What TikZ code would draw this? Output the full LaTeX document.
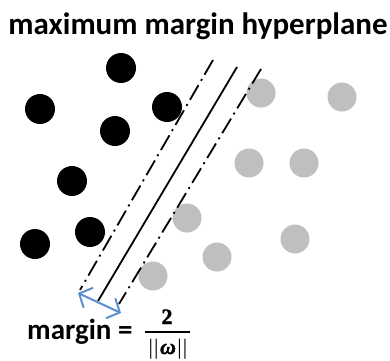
\documentclass[tikz,border=0pt]{standalone}
\usepackage{fontspec}
\setmainfont{Carlito}
\newfontfamily\fracfont{Liberation Serif}[BoldFont={Liberation Serif Bold},BoldItalicFont={Liberation Serif Bold Italic},BoldFeatures={FakeBold=1.5},BoldItalicFeatures={FakeBold=1.5}]
\usetikzlibrary{arrows.meta}
\definecolor{dotgrey}{RGB}{191,191,191}
\definecolor{arrowblue}{RGB}{91,143,210}
\begin{document}
\begin{tikzpicture}[x=1pt,y=-1pt,
  blackdot/.style={circle,fill=black,minimum size=30pt,inner sep=0pt},
  greydot/.style={circle,fill=dotgrey,minimum size=29pt,inner sep=0pt},
  hyper/.style={line width=1.8pt},
  marginline/.style={line width=1.8pt,dash pattern=on 17pt off 5pt on 2pt off 5pt},
  barb/.style={Straight Barb[length=10pt,width=22pt,line width=2pt]},
  marginarrow/.style={arrowblue,line width=2pt,{Straight Barb[length=10pt,width=22pt]}-{Straight Barb[length=10pt,width=22pt]}},
  bigtext/.style={font=\bfseries\fontsize{31}{36}\selectfont,inner sep=0pt},
  mtext/.style={font=\bfseries\fontsize{29}{34}\selectfont,inner sep=0pt},
  fractext/.style={font=\fracfont\fontsize{22}{26}\selectfont,inner sep=0pt}]
\useasboundingbox (0,0) rectangle (390,360);
% title
\node[bigtext,anchor=base] (title) at (198,34.5) {maximum margin hyperplane};
% black dots
\node[blackdot] (b1) at (121,68) {};
\node[blackdot] (b2) at (40,109) {};
\node[blackdot] (b3) at (167,107) {};
\node[blackdot] (b4) at (115,131) {};
\node[blackdot] (b5) at (72,181) {};
\node[blackdot] (b6) at (90,232) {};
\node[blackdot] (b7) at (35,244) {};
% grey dots
\node[greydot] (g1) at (261,93) {};
\node[greydot] (g2) at (342,97) {};
\node[greydot] (g3) at (249,163) {};
\node[greydot] (g4) at (304,163) {};
\node[greydot] (g5) at (187,218) {};
\node[greydot] (g6) at (295,239) {};
\node[greydot] (g7) at (217,257) {};
\node[greydot] (g8) at (153,276) {};
% hyperplane and margins
\coordinate (h1) at (237,67);
\coordinate (h2) at (98,301);
\coordinate (l1) at (213,60);
\coordinate (l2) at (80,290);
\coordinate (r1) at (261,69);
\coordinate (r2) at (119,304);
\draw[hyper] (h1) -- (h2);
\draw[marginline] (l1) -- (l2);
\draw[marginline] (r1) -- (r2);
% margin arrow
\coordinate (a1) at (78,293);
\coordinate (a2) at (121,313);
\draw[marginarrow] (a1) -- (a2);
% margin formula
\node[mtext,anchor=base west] (mlabel) at (27,339) {margin =};
\node[fractext,anchor=base] (num) at (167,324) {\bfseries 2};
\coordinate (f1) at (145,332);
\coordinate (f2) at (190,332);
\draw[line width=1.3pt] (f1) -- (f2);
\node[fractext,anchor=base] (den) at (168,354) {|\kern1pt|\kern1.5pt{\bfseries\itshape ω}\kern1.5pt|\kern1pt|};
\end{tikzpicture}
\end{document}
